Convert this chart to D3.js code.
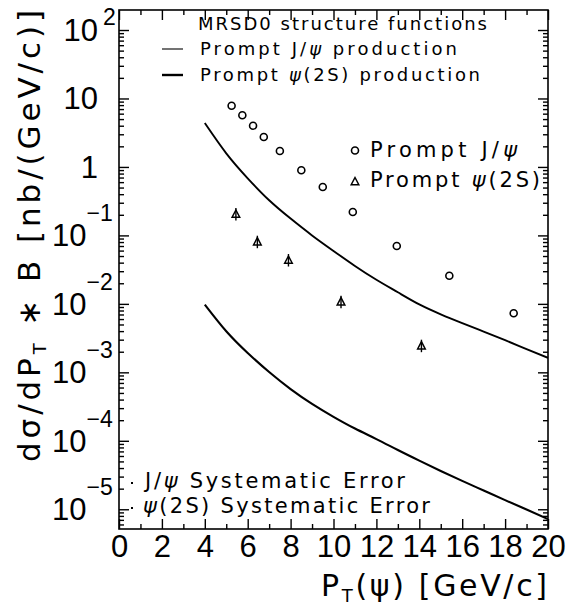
<!DOCTYPE html>
<html>
<head>
<meta charset="utf-8">
<script src="https://cdn.jsdelivr.net/npm/d3@7"></script>
<style>
  html, body { margin: 0; padding: 0; background: #fff; }
  svg { display: block; }
  text { font-family: "Liberation Sans", Arial, Helvetica, sans-serif; fill: #000; }
  text.wide { font-family: "DejaVu Sans", "Liberation Sans", sans-serif; }
</style>
</head>
<body>
<svg id="chart" width="571" height="606"></svg>
<script>
// Prompt J/psi cross section: pT bin centres (GeV/c) and dσ/dpT·B (nb/(GeV/c))
const jpsiPt = [5.25, 5.75, 6.25, 6.75, 7.5, 8.5, 9.5, 10.9, 12.95, 15.4, 18.4];
const jpsiXs = [7.84, 5.68, 4.0, 2.74, 1.71, 0.893, 0.509, 0.22, 0.070, 0.0258, 0.00728];

// Prompt psi(2S) cross section
const psi2sPt = [5.45, 6.45, 7.9, 10.35, 14.1];
const psi2sXs = [0.2055, 0.0809, 0.0437, 0.01076, 0.00245];

// Theory predictions (MRSD0 structure functions)
const curvePt = [4, 5, 6, 7, 8, 9, 10, 11, 12, 13, 14, 15, 16, 17, 18, 19, 20];
const jpsiTheory = [4.37, 1.58, 0.682, 0.326, 0.176, 0.100, 0.0593, 0.0358, 0.0225,
                    0.01476, 0.00982, 0.00705, 0.00525, 0.00394, 0.00295, 0.00219, 0.00163];
const psi2sTheory = [0.00977, 0.00399, 0.00192, 0.00101, 0.000569, 0.000346, 0.000224,
                     0.000151, 0.000106, 7.33e-5, 5.13e-5, 3.63e-5, 2.6e-5, 1.88e-5,
                     1.36e-5, 9.9e-6, 7.2e-6];

// Axis ticks and labels
const xTicks = [0, 2, 4, 6, 8, 10, 12, 14, 16, 18, 20];
const xMinorTicks = [1, 3, 5, 7, 9, 11, 13, 15, 17, 19];
const yTickValues = [1e-5, 1e-4, 1e-3, 1e-2, 1e-1, 1, 10, 100];
const yTickLabels = [["10", "\u22125"], ["10", "\u22124"], ["10", "\u22123"], ["10", "\u22122"],
                     ["10", "\u22121"], ["1", ""], ["10", ""], ["10", "2"]];

const svg = d3.select("#chart");
const plotLeft = 119, plotRight = 548, plotTop = 10, plotBottom = 529;

const x = d3.scaleLinear().domain([0, 20]).range([plotLeft, plotRight]);
const y = d3.scaleLog().domain([5.15e-6, 196]).range([plotBottom, plotTop]);

// minor log ticks 2..9 per decade inside the domain
const yMinor = [];
for (let e = -6; e <= 2; e++) {
  for (let k = 2; k <= 9; k++) {
    const v = k * Math.pow(10, e);
    if (v >= y.domain()[0] && v <= y.domain()[1]) yMinor.push(v);
  }
}

function tidy(g) {
  g.select(".domain").remove();
  g.selectAll(".tick line").attr("stroke", "#000").attr("stroke-width", 1.4);
}

// x axes (bottom with labels, top mirrored)
svg.append("g").attr("transform", `translate(0,${plotBottom})`)
  .call(d3.axisBottom(x).tickValues(xTicks).tickSize(-10).tickPadding(6).tickFormat(d => d))
  .call(tidy)
  .call(g => g.selectAll("text").attr("font-size", 31).attr("font-family", null));
svg.append("g").attr("transform", `translate(0,${plotBottom})`)
  .call(d3.axisBottom(x).tickValues(xMinorTicks).tickSize(-5).tickFormat(""))
  .call(tidy);
svg.append("g").attr("transform", `translate(0,${plotTop})`)
  .call(d3.axisTop(x).tickValues(xTicks).tickSize(-10).tickFormat(""))
  .call(tidy);
svg.append("g").attr("transform", `translate(0,${plotTop})`)
  .call(d3.axisTop(x).tickValues(xMinorTicks).tickSize(-5).tickFormat(""))
  .call(tidy);

// y axes (left and right, inward ticks)
svg.append("g").attr("transform", `translate(${plotLeft},0)`)
  .call(d3.axisLeft(y).tickValues(yTickValues).tickSize(-10).tickFormat(""))
  .call(tidy);
svg.append("g").attr("transform", `translate(${plotLeft},0)`)
  .call(d3.axisLeft(y).tickValues(yMinor).tickSize(-5).tickFormat(""))
  .call(tidy);
svg.append("g").attr("transform", `translate(${plotRight},0)`)
  .call(d3.axisRight(y).tickValues(yTickValues).tickSize(-10).tickFormat(""))
  .call(tidy);
svg.append("g").attr("transform", `translate(${plotRight},0)`)
  .call(d3.axisRight(y).tickValues(yMinor).tickSize(-5).tickFormat(""))
  .call(tidy);

// frame
svg.append("rect")
  .attr("x", plotLeft).attr("y", plotTop)
  .attr("width", plotRight - plotLeft).attr("height", plotBottom - plotTop)
  .attr("fill", "none").attr("stroke", "#000").attr("stroke-width", 1.6);

// y tick labels: powers of ten with superscript exponents
const yLab = svg.append("g");
yTickValues.forEach((v, i) => {
  const [base, exp] = yTickLabels[i];
  const ty = y(v);
  const negative = exp.startsWith("\u2212");
  const baseEnd = negative ? 86.5 : 98;
  yLab.append("text")
    .attr("x", baseEnd).attr("y", ty + 11)
    .attr("text-anchor", "end").attr("font-size", 31)
    .text(base);
  if (exp) {
    yLab.append("text")
      .attr("x", baseEnd + (negative ? 0 : 5)).attr("y", negative ? ty - 14 : ty - 5)
      .attr("font-size", 23)
      .text(exp);
  }
});

// spread a text's glyphs so that it spans the given width
function fitText(sel, width) {
  const node = sel.node();
  const w = node.getComputedTextLength();
  const n = node.textContent.length;
  if (n > 1) sel.style("letter-spacing", ((width - w) / (n - 1)) + "px");
  return sel;
}

// axis titles
const yTitle = svg.append("text").attr("class", "wide")
  .attr("transform", "translate(40,462) rotate(-90)")
  .attr("font-size", 31);
yTitle.append("tspan").text("d\u03c3/dP");
yTitle.append("tspan").attr("font-size", 18).attr("dy", 6).text("T");
yTitle.append("tspan").attr("dy", -6).text(" \u2217 B [nb/(GeV/c)]");
fitText(yTitle, 452);

const xTitle = svg.append("text").attr("class", "wide")
  .attr("x", 321).attr("y", 596)
  .attr("font-size", 30);
xTitle.append("tspan").text("P");
xTitle.append("tspan").attr("font-size", 18).attr("dy", 6).text("T");
xTitle.append("tspan").attr("dy", -6).text("(\u03c8) [GeV/c]");
fitText(xTitle, 226);

// theory curves and data, clipped to the frame
svg.append("clipPath").attr("id", "plotClip")
  .append("rect").attr("x", plotLeft).attr("y", plotTop)
  .attr("width", plotRight - plotLeft).attr("height", plotBottom - plotTop);
const plot = svg.append("g").attr("clip-path", "url(#plotClip)");

const line = d3.line()
  .x(d => x(d[0]))
  .y(d => y(d[1]))
  .curve(d3.curveNatural);

plot.append("path")
  .datum(curvePt.map((p, i) => [p, jpsiTheory[i]]))
  .attr("d", line).attr("fill", "none")
  .attr("stroke", "#000").attr("stroke-width", 1.9);
plot.append("path")
  .datum(curvePt.map((p, i) => [p, psi2sTheory[i]]))
  .attr("d", line).attr("fill", "none")
  .attr("stroke", "#000").attr("stroke-width", 2.1);

function triangle(g, cx, cy) {
  g.append("path")
    .attr("d", `M${cx},${cy - 4}L${cx + 3.8},${cy + 3.2}L${cx - 3.8},${cy + 3.2}Z`)
    .attr("fill", "none").attr("stroke", "#000").attr("stroke-width", 1.5)
    .attr("stroke-linejoin", "miter");
  g.append("line")
    .attr("x1", cx).attr("x2", cx).attr("y1", cy - 6).attr("y2", cy + 6.5)
    .attr("stroke", "#000").attr("stroke-width", 1.4);
}

plot.selectAll("circle.jpsi")
  .data(jpsiPt.map((p, i) => [p, jpsiXs[i]]))
  .join("circle").attr("class", "jpsi")
  .attr("cx", d => x(d[0])).attr("cy", d => y(d[1])).attr("r", 3.5)
  .attr("fill", "none").attr("stroke", "#000").attr("stroke-width", 1.6);

psi2sPt.forEach((p, i) => triangle(plot, x(p), y(psi2sXs[i])));

// legends
const leg = svg.append("g");
fitText(leg.append("text").attr("class", "wide").attr("x", 198).attr("y", 30).attr("font-size", 18)
  .text("MRSD0 structure functions"), 289);

leg.append("line").attr("x1", 162).attr("x2", 183).attr("y1", 49).attr("y2", 49)
  .attr("stroke", "#000").attr("stroke-width", 1.1);
const l2 = leg.append("text").attr("class", "wide").attr("x", 200).attr("y", 55).attr("font-size", 18);
l2.append("tspan").text("Prompt J/");
l2.append("tspan").attr("font-style", "italic").text("\u03c8");
l2.append("tspan").text(" production");
fitText(l2, 257);

leg.append("line").attr("x1", 162).attr("x2", 183).attr("y1", 75).attr("y2", 75)
  .attr("stroke", "#000").attr("stroke-width", 2.4);
const l3 = leg.append("text").attr("class", "wide").attr("x", 200).attr("y", 81).attr("font-size", 18);
l3.append("tspan").text("Prompt ");
l3.append("tspan").attr("font-style", "italic").text("\u03c8");
l3.append("tspan").text("(2S) production");
fitText(l3, 280);

leg.append("circle").attr("cx", 355).attr("cy", 150.5).attr("r", 3.5)
  .attr("fill", "none").attr("stroke", "#000").attr("stroke-width", 1.6);
const d1 = leg.append("text").attr("class", "wide").attr("x", 370).attr("y", 157).attr("font-size", 21);
d1.append("tspan").text("Prompt J/");
d1.append("tspan").attr("font-style", "italic").text("\u03c8");
fitText(d1, 147);

leg.append("path")
  .attr("d", "M355,177.5L358.8,184.7L351.2,184.7Z")
  .attr("fill", "none").attr("stroke", "#000").attr("stroke-width", 1.5);
const d2 = leg.append("text").attr("class", "wide").attr("x", 370).attr("y", 187).attr("font-size", 21);
d2.append("tspan").text("Prompt ");
d2.append("tspan").attr("font-style", "italic").text("\u03c8");
d2.append("tspan").text("(2S)");
fitText(d2, 170);

// systematic error legend
leg.append("rect").attr("x", 131).attr("y", 482).attr("width", 2).attr("height", 2).attr("fill", "#000");
const s1 = leg.append("text").attr("class", "wide").attr("x", 145).attr("y", 488).attr("font-size", 21);
s1.append("tspan").text("J/");
s1.append("tspan").attr("font-style", "italic").text("\u03c8");
s1.append("tspan").text(" Systematic Error");
fitText(s1, 260);

leg.append("rect").attr("x", 131).attr("y", 507).attr("width", 2).attr("height", 2).attr("fill", "#000");
const s2 = leg.append("text").attr("class", "wide").attr("x", 143).attr("y", 513).attr("font-size", 21);
s2.append("tspan").attr("font-style", "italic").text("\u03c8");
s2.append("tspan").text("(2S) Systematic Error");
fitText(s2, 287);
</script>
</body>
</html>
